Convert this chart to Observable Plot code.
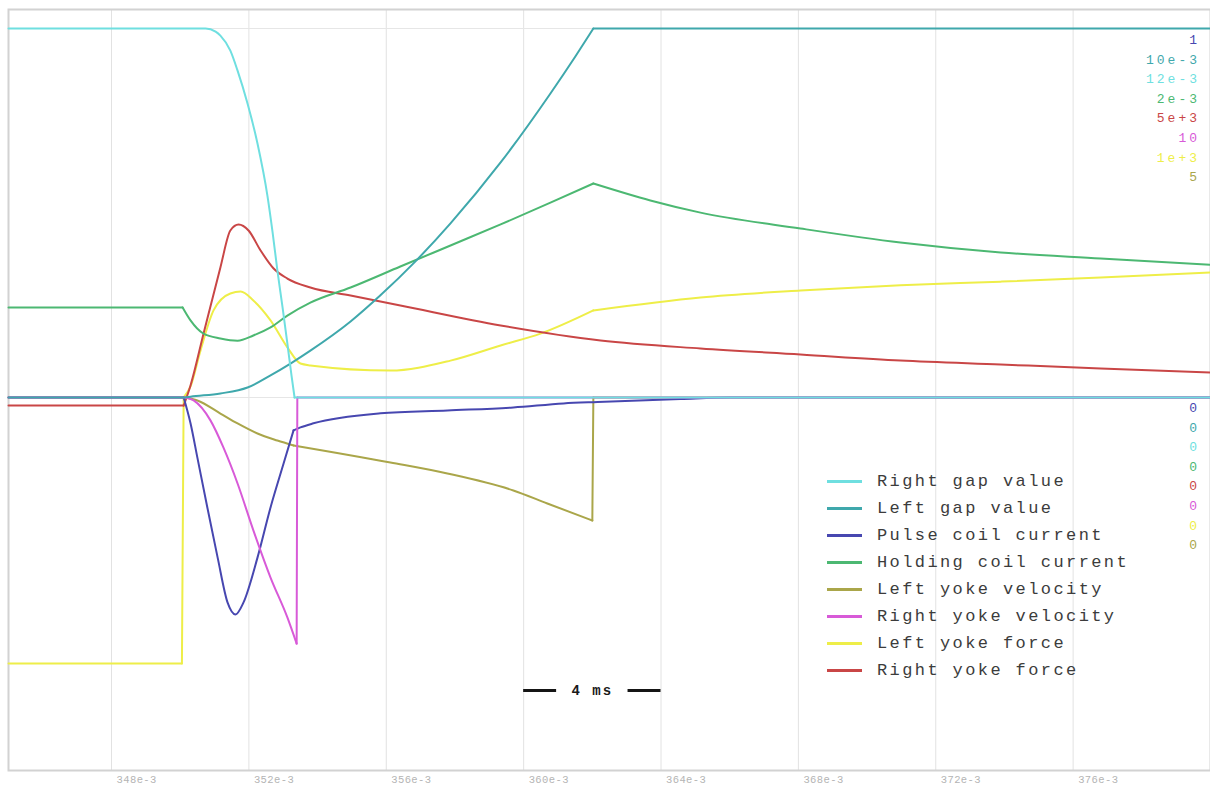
<!DOCTYPE html>
<html>
<head>
<meta charset="utf-8">
<script src="https://cdn.jsdelivr.net/npm/d3@7"></script>
<script src="https://cdn.jsdelivr.net/npm/@observablehq/plot@0.6"></script>
<style>
  body { margin: 0; background: #fff; }
  #wrap { position: relative; width: 1210px; height: 785px; overflow: hidden; background: #fff; }
  .scales { position: absolute; right: 10px; font: 13px "Liberation Mono", monospace; letter-spacing: 3px; text-align: right; line-height: 19.6px; }
  .legend { position: absolute; left: 827px; top: 468px; font: 17px "Liberation Mono", monospace; letter-spacing: 2.4px; color: #3c3c3c; }
  .legend div { height: 27px; display: flex; align-items: center; }
  .legend span.sw { display: inline-block; width: 35px; height: 3px; margin-right: 15px; }
</style>
</head>
<body>
<div id="wrap"></div>
<script>
// Time axis (ms) and its labelled gridlines
const timeDomain = [345, 380];
const timeTicks = [348, 352, 356, 360, 364, 368, 372, 376];

// Traces: [time in ms, value in SI units]
const rightGap = [
  [345.00, 0.0120], [350.74, 0.0120], [351.03, 0.01190], [351.17, 0.01177], [351.46, 0.01128],
  [351.67, 0.01063], [351.96, 0.00956], [352.25, 0.00826], [352.54, 0.00656], [352.69, 0.00537],
  [352.83, 0.00413], [352.98, 0.00293], [353.12, 0.00176], [353.24, 0.00072], [353.33, 0],
  [380.00, 0]
];
const leftGap = [
  [345.00, 0], [350.15, 0], [350.30, 0.00002], [351.17, 0.00011], [351.96, 0.00027],
  [352.63, 0.00060], [353.21, 0.00092], [353.79, 0.00127], [354.96, 0.00206], [355.83, 0.00277],
  [356.85, 0.00369], [357.87, 0.00472], [359.33, 0.00637], [360.78, 0.00824], [361.51, 0.00925],
  [362.03, 0.0100], [380.00, 0.0100]
];
const pulseCurrent = [
  [345.00, 0], [350.10, 0], [350.30, -0.070], [350.50, -0.163], [350.79, -0.298], [351.09, -0.434],
  [351.38, -0.556], [351.61, -0.588], [351.84, -0.556], [352.25, -0.434], [352.63, -0.298],
  [353.01, -0.179], [353.30, -0.089], [353.50, -0.081], [353.88, -0.070], [355.83, -0.043],
  [357.78, -0.035], [359.70, -0.027], [361.16, -0.016], [362.15, -0.012], [364.57, -0.004],
  [366.00, 0], [380.00, 0]
];
const holdingCurrent = [
  [345.00, 0.000488], [350.07, 0.000488], [350.30, 0.000418], [350.68, 0.000346], [351.17, 0.000320],
  [351.67, 0.000308], [352.13, 0.000336], [352.63, 0.000380], [353.12, 0.000444], [353.79, 0.000514],
  [354.96, 0.000596], [356.41, 0.000710], [357.87, 0.000824], [359.33, 0.000938], [360.78, 0.001056],
  [362.03, 0.001160], [363.69, 0.001068], [365.15, 0.001002], [368.06, 0.000916], [370.97, 0.000840],
  [373.89, 0.000786], [376.80, 0.000754], [380.00, 0.000720]
];
const leftYokeVelocity = [
  [345.00, 0], [350.15, 0], [350.50, -0.040], [351.17, -0.217], [351.67, -0.352], [352.25, -0.488],
  [352.83, -0.583], [353.30, -0.650], [356.12, -0.881], [357.78, -1.030], [359.70, -1.260],
  [360.69, -1.436], [362.00, -1.667], [362.03, 0], [380.00, 0]
];
const rightYokeVelocity = [
  [345.00, 0], [350.15, 0], [350.39, -0.08], [350.88, -0.62], [351.26, -1.36], [351.67, -2.33],
  [352.13, -3.60], [352.63, -4.88], [353.12, -5.96], [353.39, -6.67], [353.41, 0], [380.00, 0]
];
const leftYokeForce = [
  [345.00, -721], [350.05, -721], [350.10, 0], [350.30, 30], [350.59, 127], [350.97, 236],
  [351.46, 282], [351.76, 287], [352.13, 263], [352.63, 209], [353.12, 136], [353.50, 92],
  [353.79, 87], [356.12, 73], [357.87, 100], [359.33, 141], [360.49, 173], [362.03, 236],
  [365.15, 271], [368.06, 290], [370.97, 304], [373.89, 314], [376.80, 325], [380.00, 339]
];
const rightYokeForce = [
  [345.00, -110], [350.10, -110], [350.30, 163], [350.68, 867], [351.17, 1762], [351.46, 2263],
  [351.70, 2344], [351.99, 2263], [352.34, 1992], [352.72, 1748], [353.12, 1612], [353.79, 1491],
  [354.96, 1382], [356.41, 1247], [359.33, 976], [362.24, 772], [365.15, 664], [368.06, 583],
  [370.97, 501], [373.89, 447], [376.80, 393], [380.00, 339]
];

// Series: legend name, colour, full-scale value (top gridline), trace, kink times
const series = [
  {name: "Right gap value",       color: "#6fdfe0", full: 12e-3, label: "12e-3", data: rightGap,          kinks: [353.33]},
  {name: "Left gap value",        color: "#3fa8ac", full: 10e-3, label: "10e-3", data: leftGap,           kinks: [362.03]},
  {name: "Pulse coil current",    color: "#4747b0", full: 1,     label: "1",     data: pulseCurrent,      kinks: [350.10, 353.30]},
  {name: "Holding coil current",  color: "#4cb872", full: 2e-3,  label: "2e-3",  data: holdingCurrent,    kinks: [350.07, 362.03]},
  {name: "Left yoke velocity",    color: "#aaa64a", full: 5,     label: "5",     data: leftYokeVelocity,  kinks: [350.15, 353.30, 362.00, 362.03]},
  {name: "Right yoke velocity",   color: "#d85ad8", full: 10,    label: "10",    data: rightYokeVelocity, kinks: [350.15, 353.39, 353.41]},
  {name: "Left yoke force",       color: "#eeee48", full: 1e3,   label: "1e+3",  data: leftYokeForce,     kinks: [350.05, 350.10, 362.03]},
  {name: "Right yoke force",      color: "#c94646", full: 5e3,   label: "5e+3",  data: rightYokeForce,    kinks: [350.10]}
];

// Drawing order of the traces (later ones sit on top along the baseline)
const drawOrder = ["Left yoke force", "Right yoke force", "Holding coil current", "Left yoke velocity",
                   "Pulse coil current", "Right yoke velocity", "Left gap value", "Right gap value"];

// Order of the full-scale / zero readouts on the right edge
const readoutOrder = ["Pulse coil current", "Left gap value", "Right gap value", "Holding coil current",
                      "Right yoke force", "Right yoke velocity", "Left yoke force", "Left yoke velocity"];

// 4 ms scale bar
const scaleBar = {from: 360, to: 364, text: "4 ms", level: -0.794};

// Split a trace at its kinks so the smoothing keeps sharp corners and jumps
function pieces(pts, kinks) {
  const out = [];
  let cur = [];
  for (const p of pts) {
    cur.push(p);
    if (kinks.includes(p[0]) && cur.length > 1) { out.push(cur); cur = [p]; }
  }
  if (cur.length > 1) out.push(cur);
  return out;
}

const byName = new Map(series.map(s => [s.name, s]));

const traceMarks = drawOrder.map(name => {
  const s = byName.get(name);
  const rows = pieces(s.data, s.kinks).flatMap((seg, i) => seg.map(([t, v]) => ({t, n: v / s.full, k: i})));
  return Plot.line(rows, {x: "t", y: "n", z: "k", stroke: s.color, strokeWidth: 2, curve: "monotone-x"});
});

const barLen = (scaleBar.to - scaleBar.from) * 0.24;
const bar = [
  {x1: scaleBar.from, x2: scaleBar.from + barLen},
  {x1: scaleBar.to - barLen, x2: scaleBar.to}
];

const chart = Plot.plot({
  width: 1210,
  height: 785,
  marginLeft: 8,
  marginRight: 0,
  marginTop: 9,
  marginBottom: 15,
  x: {domain: timeDomain},
  y: {domain: [-1, 1], range: [766, 28], axis: null},
  marks: [
    Plot.ruleX(timeTicks, {stroke: "#e2e2e2", strokeWidth: 1}),
    Plot.ruleY([1, 0], {stroke: "#e6e6e6", strokeWidth: 1}),
    Plot.frame({stroke: "#d2d2d2", strokeWidth: 2}),
    Plot.axisX({
      ticks: timeTicks,
      tickFormat: d => `${d}e-3`,
      tickSize: 0,
      tickPadding: 2,
      textAnchor: "start",
      dx: 5,
      dy: 3,
      fontSize: 10.5,
      fontFamily: "Liberation Mono, monospace",
      fill: "#b4b4b4",
      label: null
    }),
    ...traceMarks,
    Plot.ruleY(bar, {y: () => scaleBar.level, x1: "x1", x2: "x2", stroke: "#151515", strokeWidth: 3}),
    Plot.text([scaleBar], {
      x: d => (d.from + d.to) / 2, y: "level", text: "text",
      fontSize: 14, fontFamily: "Liberation Mono, monospace", fill: "#1a1a1a", fontWeight: "bold"
    })
  ]
});

const wrap = document.getElementById("wrap");
wrap.appendChild(chart);
d3.select(chart).selectAll('g[aria-label="x-axis tick label"] text').attr("letter-spacing", "0.4px");
d3.select(chart).selectAll('g[aria-label="text"] text').attr("letter-spacing", "2px");

// Full-scale readouts (top right) and zero readouts (below the baseline)
const fullReadout = d3.select(wrap).append("div").attr("class", "scales").style("top", "31px");
const zeroReadout = d3.select(wrap).append("div").attr("class", "scales").style("top", "399px");
for (const name of readoutOrder) {
  const s = byName.get(name);
  fullReadout.append("div").style("color", s.color).text(s.label);
  zeroReadout.append("div").style("color", s.color).text("0");
}

// Legend
const legend = d3.select(wrap).append("div").attr("class", "legend");
for (const s of series) {
  const row = legend.append("div");
  row.append("span").attr("class", "sw").style("background", s.color);
  row.append("span").text(s.name);
}
</script>
</body>
</html>
